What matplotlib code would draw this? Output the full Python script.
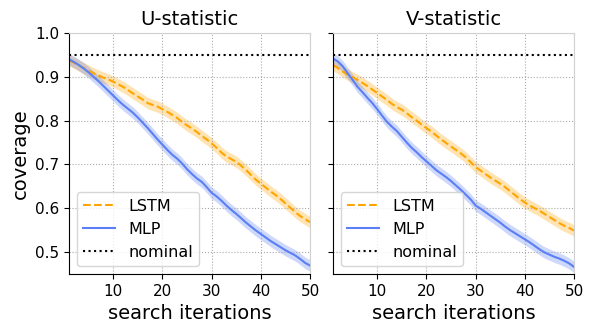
import matplotlib
matplotlib.use("Agg")
import matplotlib.pyplot as plt
import numpy as np

iters = np.arange(1, 51)

u_lstm = [0.938, 0.932, 0.926, 0.920, 0.914, 0.908, 0.903, 0.898, 0.894, 0.889,
          0.883, 0.877, 0.870, 0.862, 0.855, 0.848, 0.840, 0.836, 0.832, 0.826,
          0.820, 0.813, 0.806, 0.797, 0.789, 0.782, 0.774, 0.765, 0.757, 0.748,
          0.738, 0.727, 0.718, 0.712, 0.706, 0.697, 0.687, 0.676, 0.665, 0.656,
          0.647, 0.638, 0.630, 0.621, 0.611, 0.601, 0.591, 0.582, 0.575, 0.568]
u_mlp = [0.940, 0.934, 0.927, 0.919, 0.910, 0.900, 0.890, 0.879, 0.868, 0.857,
         0.846, 0.836, 0.827, 0.818, 0.807, 0.795, 0.783, 0.770, 0.757, 0.745,
         0.733, 0.722, 0.713, 0.702, 0.689, 0.678, 0.668, 0.660, 0.648, 0.635,
         0.627, 0.617, 0.606, 0.596, 0.587, 0.577, 0.567, 0.558, 0.549, 0.541,
         0.533, 0.525, 0.518, 0.511, 0.504, 0.498, 0.492, 0.484, 0.475, 0.469]
v_lstm = [0.927, 0.920, 0.912, 0.905, 0.899, 0.893, 0.886, 0.879, 0.871, 0.863,
          0.855, 0.847, 0.838, 0.831, 0.825, 0.817, 0.808, 0.800, 0.791, 0.783,
          0.775, 0.766, 0.757, 0.749, 0.741, 0.733, 0.725, 0.716, 0.705, 0.694,
          0.686, 0.678, 0.670, 0.663, 0.656, 0.648, 0.639, 0.630, 0.621, 0.613,
          0.606, 0.600, 0.594, 0.587, 0.580, 0.573, 0.566, 0.560, 0.555, 0.549]
v_mlp = [0.942, 0.935, 0.924, 0.908, 0.893, 0.877, 0.865, 0.852, 0.840, 0.826,
         0.811, 0.797, 0.786, 0.776, 0.763, 0.750, 0.738, 0.728, 0.717, 0.707,
         0.697, 0.687, 0.679, 0.671, 0.662, 0.652, 0.642, 0.631, 0.620, 0.606,
         0.599, 0.591, 0.583, 0.575, 0.567, 0.558, 0.550, 0.543, 0.536, 0.529,
         0.522, 0.514, 0.506, 0.499, 0.494, 0.489, 0.485, 0.480, 0.474, 0.466]
band = 0.013   # half width of shaded interval
nominal = 0.95

panels = [("U-statistic", u_lstm, u_mlp), ("V-statistic", v_lstm, v_mlp)]

orange = "#FFA500"
blue = "#5B7FF5"

fig, axes = plt.subplots(1, 2, figsize=(5.93, 3.34), dpi=100, sharey=True)
fig.subplots_adjust(left=0.1164, right=0.968, top=0.901, bottom=0.180, wspace=0.095)

for ax, (title, lstm, mlp) in zip(axes, panels):
    lstm = np.array(lstm)
    mlp = np.array(mlp)
    ax.fill_between(iters, lstm - band, lstm + band, color=orange, alpha=0.3, lw=0)
    ax.plot(iters, lstm, "--", color=orange, lw=1.5, label="LSTM")
    ax.fill_between(iters, mlp - band, mlp + band, color=blue, alpha=0.3, lw=0)
    ax.plot(iters, mlp, "-", color=blue, lw=1.5, label="MLP")
    ax.axhline(nominal, color="black", ls=":", lw=1.5, label="nominal")
    ax.set_xlim(1, 50)
    ax.set_ylim(0.45, 1.0)
    ax.set_xticks([10, 20, 30, 40, 50])
    ax.set_yticks([0.5, 0.6, 0.7, 0.8, 0.9, 1.0])
    ax.grid(True, ls=":", color="#aaaaaa", lw=0.8)
    ax.set_title(title, fontsize=14)
    ax.set_xlabel("search iterations", fontsize=14)
    ax.tick_params(labelsize=11)
    for s in ("top", "right"):
        ax.spines[s].set_color("#d0d0d0")
    ax.legend(loc="lower left", fontsize=11.5)

axes[0].set_ylabel("coverage", fontsize=14)

fig.savefig("out.png", dpi=100)
